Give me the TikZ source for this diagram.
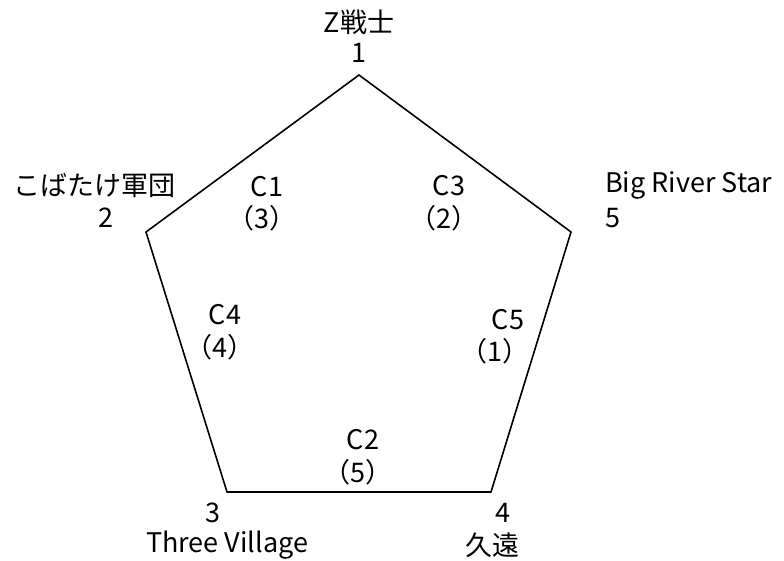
\documentclass[tikz,border=0pt]{standalone}
\usepackage{fontspec}
\setmainfont{Noto Sans CJK JP}
\begin{document}
\begin{tikzpicture}[x=1pt,y=-1pt,
  lbl/.style={font=\fontsize{27}{29}\selectfont, inner sep=0pt, text=black},
  edge/.style={draw=black, line width=1.6pt, line join=miter}]
\useasboundingbox (0,0) rectangle (784,561);
\coordinate (v1) at (359,75);
\coordinate (v2) at (146,232);
\coordinate (v3) at (227,492);
\coordinate (v4) at (491,492);
\coordinate (v5) at (571,232);
\draw[edge] (v1) -- (v2) -- (v3) -- (v4) -- (v5) -- cycle;
% vertex labels
\node[lbl] (n1a) at (359,22) {Z戦士};
\node[lbl] (n1b) at (359,53) {1};
\node[lbl] (n2a) at (94,185) {こばたけ軍団};
\node[lbl] (n2b) at (106,218) {2};
\node[lbl, anchor=west] (n5a) at (605,185) {Big River Star};
\node[lbl, anchor=west] (n5b) at (605,218) {5};
\node[lbl] (n3a) at (213,513) {3};
\node[lbl] (n3b) at (227,545) {Three Village};
\node[lbl] (n4a) at (503,513) {4};
\node[lbl] (n4b) at (492,545) {久遠};
% edge labels
\node[lbl] (c1a) at (267,187) {C1};
\node[lbl] (c1b) at (262,218) {（3）};
\node[lbl] (c3a) at (449,186) {C3};
\node[lbl] (c3b) at (444,218) {（2）};
\node[lbl] (c4a) at (225,315) {C4};
\node[lbl] (c4b) at (220,347) {（4）};
\node[lbl] (c5a) at (508,320) {C5};
\node[lbl] (c5b) at (495,351) {（1）};
\node[lbl] (c2a) at (363,440) {C2};
\node[lbl] (c2b) at (358,472) {（5）};
\end{tikzpicture}
\end{document}
